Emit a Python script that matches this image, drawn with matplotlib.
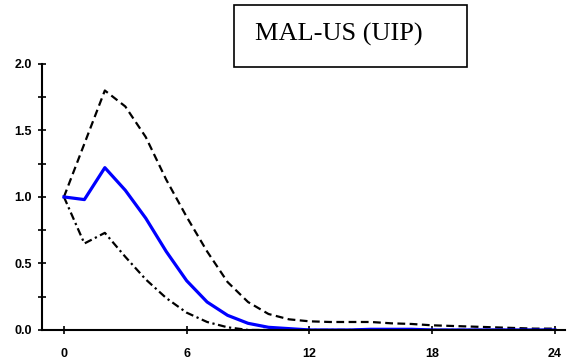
import numpy as np
import matplotlib.pyplot as plt
from matplotlib.patches import Rectangle

# impulse response, horizon 0..24
horizon = np.arange(25)

irf = [1.00, 0.98, 1.22, 1.05, 0.84, 0.59, 0.37, 0.21, 0.11, 0.05, 0.02, 0.01,
       0.00, 0.00, 0.00, 0.005, 0.005, 0.005, 0.00, 0.00, 0.00, 0.00, 0.00, 0.00, 0.00]
upper = [1.00, 1.40, 1.80, 1.68, 1.45, 1.13, 0.85, 0.59, 0.36, 0.21, 0.12, 0.08,
         0.065, 0.06, 0.06, 0.06, 0.05, 0.045, 0.035, 0.03, 0.025, 0.02, 0.015, 0.01, 0.01]
lower = [1.00, 0.65, 0.73, 0.55, 0.38, 0.24, 0.13, 0.06, 0.02, 0.00, 0.00, 0.00,
         0.00, 0.00, 0.00, 0.00, 0.00, 0.00, 0.00, 0.00, 0.00, 0.00, 0.00, 0.00, 0.00]

xticks = [0, 6, 12, 18, 24]
yticks = [0.0, 0.5, 1.0, 1.5, 2.0]
title = "MAL-US (UIP)"

fig = plt.figure(figsize=(5.68, 3.63), dpi=100)
ax = fig.add_axes([0.074, 0.091, 0.921, 0.733])

ax.plot(horizon, upper, color="black", lw=1.6, ls=(0, (3.5, 2)))
ax.plot(horizon, lower, color="black", lw=1.6, ls=(0, (3.5, 1.6, 1, 1.6)))
ax.plot(horizon, irf, color="#0000ff", lw=2.3)

ax.set_xlim(-1.07, 24.5)
ax.set_ylim(0, 2.0)
ax.set_xticks(xticks)
ax.set_yticks(yticks)
ax.set_yticks(np.arange(0.25, 2.0, 0.5), minor=True)
ax.set_xticklabels([str(t) for t in xticks])
ax.set_yticklabels([f"{t:.1f}" for t in yticks])

for side in ("top", "right"):
    ax.spines[side].set_visible(False)
for side in ("left", "bottom"):
    ax.spines[side].set_linewidth(1.5)

ax.tick_params(which="both", direction="inout", length=6, width=1.2)
ax.tick_params(axis="x", pad=10)
ax.tick_params(axis="y", pad=4.5)
for lab in ax.get_xticklabels() + ax.get_yticklabels():
    lab.set_fontfamily("Liberation Sans")
    lab.set_fontweight("bold")
    lab.set_fontsize(9)

# title box
fig.add_artist(Rectangle((234 / 568, 1 - 67 / 363), 233 / 568, 62 / 363,
                         transform=fig.transFigure, fc="white", ec="black", lw=1.2))
fig.text(255 / 568, 1 - 34 / 363, title, ha="left", va="center", fontsize=19,
         family="Liberation Serif")

fig.savefig("out.png", dpi=100)
